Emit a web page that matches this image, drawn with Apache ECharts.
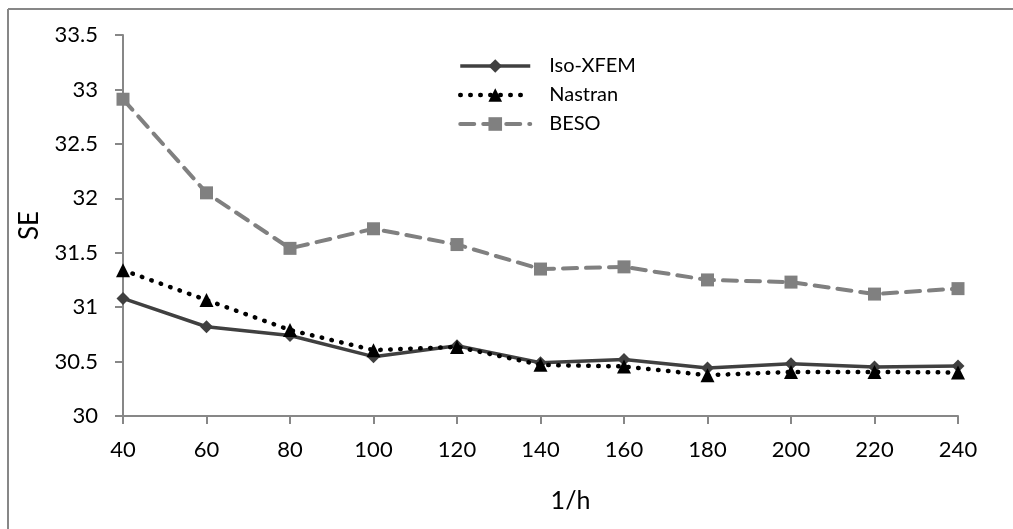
<!DOCTYPE html>
<html>
<head>
<meta charset="utf-8">
<script src="https://cdn.jsdelivr.net/npm/echarts@6/dist/echarts.min.js"></script>
<style>html,body{margin:0;padding:0;background:#fff}#c{width:1013px;height:529px}</style>
</head>
<body>
<div id="c"></div>
<script>
var xValues = [40, 60, 80, 100, 120, 140, 160, 180, 200, 220, 240];
var isoXfem = [31.08, 30.82, 30.74, 30.545, 30.645, 30.49, 30.52, 30.44, 30.48, 30.45, 30.46];
var nastran = [31.34, 31.065, 30.79, 30.605, 30.635, 30.47, 30.455, 30.375, 30.405, 30.405, 30.40];
var beso = [32.91, 32.05, 31.54, 31.72, 31.575, 31.35, 31.37, 31.25, 31.23, 31.12, 31.17];
var seriesNames = ['Iso-XFEM', 'Nastran', 'BESO'];

function pairs(ys) { return xValues.map(function (x, i) { return [x, ys[i]]; }); }

var font = 'Lato, "Open Sans", sans-serif';
var axisGray = '#878787';
var isoStyle = { color: '#404040', width: 3.5 };
var nasStyle = { color: '#000', width: 4.5, type: [0.5, 9.5], cap: 'round' };
var besoStyle = { color: '#808080', width: 4, type: [14, 9], cap: 'round' };

var chart = echarts.init(document.getElementById('c'));
chart.setOption({
  animation: false,
  backgroundColor: '#fff',
  textStyle: { fontFamily: font },
  graphic: [
    { type: 'line', shape: { x1: 8, y1: 9, x2: 1013, y2: 9 }, style: { stroke: axisGray, lineWidth: 2 } },
    { type: 'line', shape: { x1: 8, y1: 9, x2: 8, y2: 529 }, style: { stroke: axisGray, lineWidth: 2 } }
  ],
  grid: { left: 123, right: 55, top: 35, bottom: 113 },
  legend: {
    orient: 'vertical', left: 453, top: 51,
    itemWidth: 70, itemHeight: 17, itemGap: 9,
    textStyle: { fontSize: 20, color: '#000', fontFamily: font, padding: [0, 0, 0, 14] },
    data: [
      { name: seriesNames[0], lineStyle: isoStyle },
      { name: seriesNames[1], lineStyle: nasStyle },
      { name: seriesNames[2], lineStyle: besoStyle }
    ]
  },
  xAxis: {
    type: 'value', min: 40, max: 240, interval: 20,
    name: '1/h', nameLocation: 'middle', nameGap: 72,
    nameTextStyle: { fontSize: 25, color: '#000', padding: [0, 0, 0, 60] },
    axisLine: { show: true, lineStyle: { color: axisGray, width: 2 } },
    axisTick: { show: true, length: 8, lineStyle: { color: axisGray, width: 2 } },
    axisLabel: { fontSize: 22, color: '#000', margin: 23 },
    splitLine: { show: false }
  },
  yAxis: {
    type: 'value', min: 30, max: 33.5, interval: 0.5,
    name: 'SE', nameLocation: 'middle', nameGap: 80, nameRotate: 90,
    nameTextStyle: { fontSize: 26, color: '#000' },
    axisLine: { show: true, lineStyle: { color: axisGray, width: 2 } },
    axisTick: { show: true, length: 8, lineStyle: { color: axisGray, width: 2 } },
    axisLabel: { fontSize: 22, color: '#000', margin: 25 },
    splitLine: { show: false }
  },
  series: [
    {
      name: seriesNames[0], type: 'line', data: pairs(isoXfem),
      symbol: 'diamond', symbolSize: 13, z: 3,
      itemStyle: { color: '#404040' },
      lineStyle: isoStyle
    },
    {
      name: seriesNames[1], type: 'line', data: pairs(nastran),
      symbol: 'triangle', symbolSize: 14, z: 4,
      itemStyle: { color: '#000' },
      lineStyle: nasStyle
    },
    {
      name: seriesNames[2], type: 'line', data: pairs(beso),
      symbol: 'rect', symbolSize: 13, z: 2,
      itemStyle: { color: '#808080' },
      lineStyle: besoStyle
    }
  ]
});
</script>
</body>
</html>
